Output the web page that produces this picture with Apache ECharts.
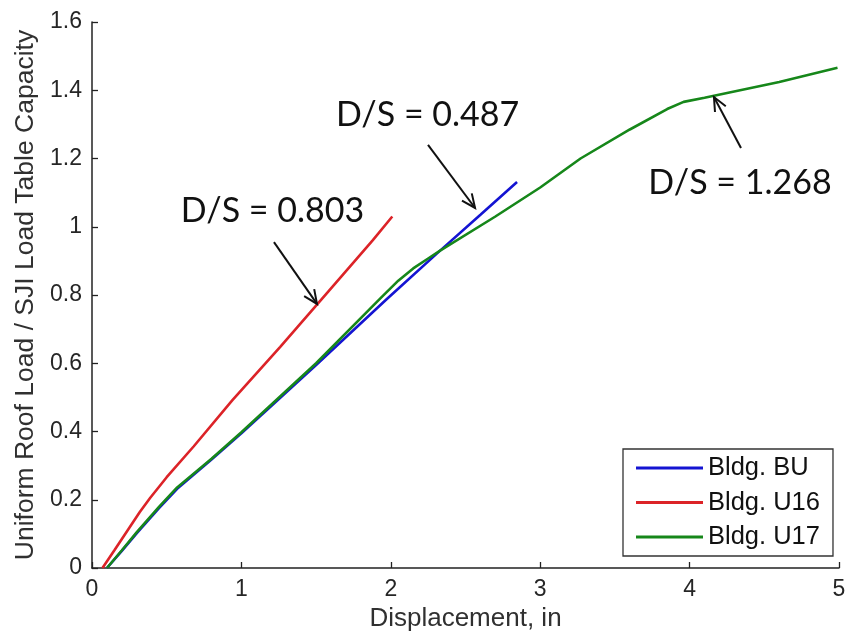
<!DOCTYPE html>
<html>
<head>
<meta charset="utf-8">
<title>Load vs displacement</title>
<script src="https://cdn.jsdelivr.net/npm/echarts@6/dist/echarts.min.js"></script>
<style>
  html, body { margin: 0; padding: 0; background: #ffffff; }
  #chart { width: 849px; height: 639px; }
</style>
</head>
<body>
<div id="chart"></div>
<script>
// Displacement (in) vs. uniform roof load normalised by SJI load table capacity
const seriesNames = ['Bldg. BU', 'Bldg. U16', 'Bldg. U17'];
const seriesColors = ['#1414d2', '#dc2328', '#16871a'];

const bldgBU = [
  [0.10, 0.000], [0.20, 0.050], [0.30, 0.102], [0.45, 0.176], [0.57, 0.232],
  [0.80, 0.318], [1.00, 0.395], [1.50, 0.595], [1.97, 0.787], [2.33, 0.930],
  [2.60, 1.035], [2.845, 1.131]
];
const bldgU16 = [
  [0.07, 0.000], [0.15, 0.052], [0.25, 0.118], [0.32, 0.164], [0.39, 0.206],
  [0.50, 0.266], [0.68, 0.356], [0.94, 0.492], [1.26, 0.648], [1.51, 0.774],
  [1.88, 0.961], [2.01, 1.030]
];
const bldgU17 = [
  [0.10, 0.000], [0.20, 0.052], [0.30, 0.105], [0.45, 0.180], [0.57, 0.236],
  [0.80, 0.320], [1.00, 0.398], [1.50, 0.600], [1.93, 0.790], [2.05, 0.842],
  [2.15, 0.878], [2.25, 0.907], [2.33, 0.930], [2.70, 1.030], [3.00, 1.115],
  [3.27, 1.200], [3.60, 1.285], [3.85, 1.345], [3.96, 1.366], [4.10, 1.378],
  [4.60, 1.424], [4.99, 1.466]
];

const xTicks = [0, 1, 2, 3, 4, 5];
const yTicks = [0, 0.2, 0.4, 0.6, 0.8, 1.0, 1.2, 1.4, 1.6];

// Callout labels: [x, y, text]
const calloutLabels = [
  [1.208, 1.045, 'D/S = 0.803'],
  [2.246, 1.326, 'D/S = 0.487'],
  [4.337, 1.127, 'D/S = 1.268']
];
// Callout arrows: [xFrom, yFrom, xTo, yTo]
const calloutArrows = [
  [1.218, 0.955, 1.506, 0.774],
  [2.249, 1.240, 2.564, 1.055],
  [4.344, 1.231, 4.163, 1.380]
];

const tickFont = 'Liberation Sans, Arial, Helvetica, sans-serif';
const tickColor = '#262626';

const chart = echarts.init(document.getElementById('chart'), null, { renderer: 'canvas' });

function lineSeries(name, data, color) {
  return {
    name: name,
    type: 'line',
    data: data,
    showSymbol: false,
    symbol: 'none',
    smooth: false,
    lineStyle: { color: color, width: 2.6 },
    itemStyle: { color: color },
    z: 3
  };
}

const option = {
  animation: false,
  backgroundColor: '#ffffff',
  grid: { left: 92, right: 10, top: 22, bottom: 71, containLabel: false },
  xAxis: {
    type: 'value',
    min: xTicks[0],
    max: xTicks[xTicks.length - 1],
    interval: 1,
    name: 'Displacement, in',
    nameLocation: 'middle',
    nameGap: 31,
    nameTextStyle: { fontFamily: tickFont, fontSize: 26, color: '#303030' },
    axisLine: { show: true, lineStyle: { color: '#222', width: 1.5 } },
    axisTick: { show: true, inside: true, length: 6, lineStyle: { color: '#222', width: 1.3 } },
    axisLabel: {
      fontFamily: tickFont, fontSize: 23, color: tickColor, margin: 10,
      formatter: v => String(+v.toFixed(1))
    },
    splitLine: { show: false }
  },
  yAxis: {
    type: 'value',
    min: yTicks[0],
    max: yTicks[yTicks.length - 1],
    interval: 0.2,
    name: 'Uniform Roof Load / SJI Load Table Capacity',
    nameLocation: 'middle',
    nameGap: 52,
    nameTextStyle: { fontFamily: tickFont, fontSize: 26.5, color: '#303030' },
    axisLine: { show: true, lineStyle: { color: '#222', width: 1.5 } },
    axisTick: { show: true, inside: true, length: 6, lineStyle: { color: '#222', width: 1.3 } },
    axisLabel: {
      fontFamily: tickFont, fontSize: 23, color: tickColor, margin: 10,
      formatter: v => String(+v.toFixed(1))
    },
    splitLine: { show: false }
  },
  legend: {
    data: seriesNames,
    orient: 'vertical',
    left: 623,
    top: 449,
    padding: [5, 13, 5, 13],
    itemGap: 6.5,
    itemWidth: 67,
    itemHeight: 3,
    icon: 'rect',
    backgroundColor: '#ffffff',
    borderColor: '#333333',
    borderWidth: 1.3,
    borderRadius: 0,
    textStyle: { fontFamily: tickFont, fontSize: 25.5, color: '#111', lineHeight: 28 }
  },
  series: [
    lineSeries(seriesNames[0], bldgBU, seriesColors[0]),
    lineSeries(seriesNames[1], bldgU16, seriesColors[1]),
    lineSeries(seriesNames[2], bldgU17, seriesColors[2]),
    {
      name: 'arrows',
      type: 'custom',
      data: calloutArrows,
      encode: { x: [0, 2], y: [1, 3] },
      clip: false,
      silent: true,
      z: 5,
      renderItem: function (params, api) {
        const p0 = api.coord([api.value(0), api.value(1)]);
        const p1 = api.coord([api.value(2), api.value(3)]);
        const ang = Math.atan2(p1[1] - p0[1], p1[0] - p0[0]);
        const headLen = 15, spread = 0.42;
        const h1 = [p1[0] - headLen * Math.cos(ang - spread), p1[1] - headLen * Math.sin(ang - spread)];
        const h2 = [p1[0] - headLen * Math.cos(ang + spread), p1[1] - headLen * Math.sin(ang + spread)];
        return {
          type: 'group',
          children: [
            { type: 'line', shape: { x1: p0[0], y1: p0[1], x2: p1[0], y2: p1[1] },
              style: { stroke: '#111', lineWidth: 2 } },
            { type: 'polyline', shape: { points: [h1, p1, h2] },
              style: { stroke: '#111', lineWidth: 2, fill: null } }
          ]
        };
      }
    },
    {
      name: 'callouts',
      type: 'custom',
      data: calloutLabels,
      encode: { x: 0, y: 1 },
      clip: false,
      silent: true,
      z: 5,
      renderItem: function (params, api) {
        const p = api.coord([api.value(0), api.value(1)]);
        return {
          type: 'text',
          x: p[0],
          y: p[1],
          style: {
            text: calloutLabels[params.dataIndex][2],
            fill: '#111',
            fontFamily: 'Lato, "Open Sans", sans-serif',
            fontSize: 34,
            align: 'center',
            verticalAlign: 'middle'
          }
        };
      }
    }
  ]
};

chart.setOption(option);
</script>
</body>
</html>
